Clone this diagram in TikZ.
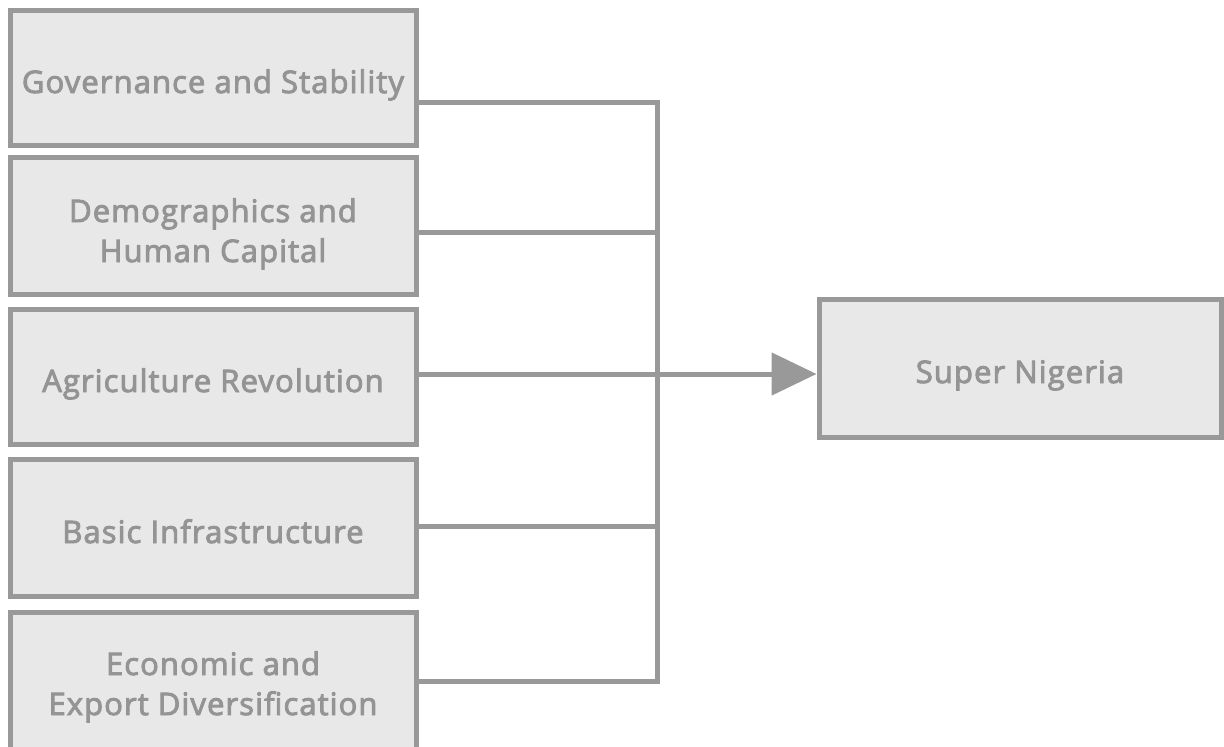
\documentclass[tikz,border=0pt]{standalone}
\usepackage{fontspec}
\setmainfont{Open Sans}
\newfontfamily\labelfont{Open Sans}[FakeBold=3, LetterSpace=3.5]
\usepackage{tikz}
\usetikzlibrary{arrows.meta}

\definecolor{edgegray}{HTML}{999999}
\definecolor{boxfill}{HTML}{E8E8E8}
\definecolor{textgray}{HTML}{949494}

\tikzset{
  factor/.style={draw=edgegray, fill=boxfill, line width=5pt, text=textgray,
    minimum width=406pt, minimum height=135pt, align=center,
    font=\labelfont\fontsize{31}{40}\selectfont,
    text height=30pt, text depth=0pt},
  wire/.style={draw=edgegray, line width=5pt}
}

\begin{document}
\begin{tikzpicture}[x=1pt, y=-1pt]
		\useasboundingbox (0,0) rectangle (1224,747);

		\node [factor] (gov) at (213,78) {Governance and Stability};
		\node [factor, minimum height=137pt, text height=72pt] (demo) at (213,226) {Demographics and\\Human Capital};
		\node [factor] (agri) at (213,377) {Agriculture Revolution};
		\node [factor, minimum height=137pt] (infra) at (213,528) {Basic Infrastructure};
		\node [factor, minimum height=147pt, text height=58pt] (econ) at (213,686) {Economic and\\Export Diversification};
		\node [factor, minimum width=402pt, minimum height=138pt] (goal) at (1020,368) {Super Nigeria};

		\coordinate (bustop) at (657,102);
		\coordinate (busbot) at (657,681);
		\coordinate (join) at (657,374);

		\draw [wire] ([yshift=-24pt]gov.east) -- (bustop) -- (busbot) -- ([yshift=5pt]econ.east);
		\draw [wire] ([yshift=-6pt]demo.east) -- ([yshift=-6pt]demo.east -| bustop);
		\draw [wire] ([yshift=3pt]agri.east) -- (join);
		\draw [wire] ([yshift=2pt]infra.east) -- ([yshift=2pt]infra.east -| bustop);
		\draw [wire, -{Triangle[length=45pt, width=42pt]}] (join) -- (goal.west |- join);
	\end{tikzpicture}
\end{document}
